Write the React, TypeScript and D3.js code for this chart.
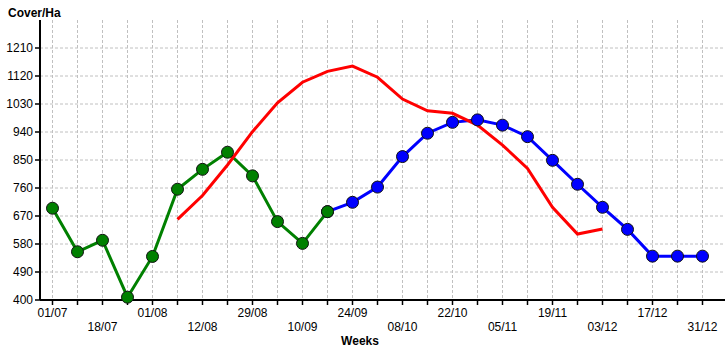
import React from "react";
import * as d3 from "d3";

const weekLabels = ["01/07", "18/07", "01/08", "12/08", "29/08", "10/09", "24/09", "08/10", "22/10", "05/11", "19/11", "03/12", "17/12", "31/12"];
const weekCount = 27;
const yTicks = [400, 490, 580, 670, 760, 850, 940, 1030, 1120, 1210];

// [weekIndex, value]
const greenSeries: [number, number][] = [
  [0, 695], [1, 555], [2, 592], [3, 409], [4, 540], [5, 756], [6, 820], [7, 875], [8, 799], [9, 652], [10, 582], [11, 684],
];
const blueSeries: [number, number][] = [
  [11, 684], [12, 714], [13, 763], [14, 861], [15, 936], [16, 971], [17, 979], [18, 962], [19, 925], [20, 849], [21, 772], [22, 698], [23, 627], [24, 541], [25, 541], [26, 541],
];
const redSeries: [number, number][] = [
  [5, 659], [6, 736], [7, 834], [8, 941], [9, 1034], [10, 1100], [11, 1135], [12, 1152], [13, 1116], [14, 1046], [15, 1008], [16, 1000], [17, 962], [18, 898], [19, 823], [20, 698], [21, 612], [22, 628],
];

const W = 725, H = 350;
const left = 40, right = 725, top = 20, bottom = 300;

export default function App() {
  const x = d3.scaleLinear().domain([0, weekCount - 1]).range([52.5, 702.5]);
  const y = d3.scaleLinear().domain([400, 1300]).range([bottom, top]);
  const line = d3.line<[number, number]>().x((d) => x(d[0])).y((d) => y(d[1]));
  const font = "'Liberation Sans', Arial, sans-serif";
  const weeks = d3.range(weekCount);

  return (
    <svg width={W} height={H} style={{ position: "absolute", left: 0, top: 0, background: "#fff" }} fontFamily={font}>
      <rect width={W} height={H} fill="#fff" />
      {/* grid */}
      {yTicks.slice(1).map((t) => (
        <line key={"hy" + t} x1={left} x2={right} y1={y(t)} y2={y(t)} stroke="#c0c0c0" strokeDasharray="3,2" />
      ))}
      {weeks.map((i) => (
        <line key={"gx" + i} x1={x(i)} x2={x(i)} y1={top} y2={bottom} stroke="#c0c0c0" strokeDasharray="3,2" />
      ))}
      {/* axes */}
      <line x1={left} x2={left} y1={top} y2={bottom} stroke="#000" strokeWidth={2} />
      <line x1={left} x2={right} y1={bottom} y2={bottom} stroke="#000" strokeWidth={2} />
      {yTicks.map((t) => (
        <g key={"yt" + t}>
          <line x1={left - 5} x2={left} y1={y(t)} y2={y(t)} stroke="#000" strokeWidth={1.5} />
          <text x={left - 7} y={y(t)} dy="0.35em" textAnchor="end" fontSize={12} fill="#000">{t}</text>
        </g>
      ))}
      {weeks.map((i) => (
        <line key={"xt" + i} x1={x(i)} x2={x(i)} y1={bottom} y2={bottom + 5} stroke="#000" strokeWidth={1.5} />
      ))}
      {weekLabels.map((lab, k) => (
        <text key={"xl" + k} x={x(k * 2)} y={k % 2 === 0 ? 317 : 331} textAnchor="middle" fontSize={12} fill="#000">{lab}</text>
      ))}
      <text x={8} y={16.5} fontSize={12} fontWeight="bold" fill="#000">Cover/Ha</text>
      <text x={360} y={345} fontSize={12} fontWeight="bold" textAnchor="middle" fill="#000">Weeks</text>
      {/* lines */}
      <path d={line(blueSeries) || ""} fill="none" stroke="#0000ff" strokeWidth={3} />
      <path d={line(greenSeries) || ""} fill="none" stroke="#008000" strokeWidth={3} />
      <path d={line(redSeries) || ""} fill="none" stroke="#ff0000" strokeWidth={3} />
      {/* markers */}
      {blueSeries.map((d, i) => (
        <circle key={"bm" + i} cx={x(d[0])} cy={y(d[1])} r={6} fill="#0000ff" stroke="#111" strokeWidth={1} />
      ))}
      {greenSeries.map((d, i) => (
        <circle key={"gm" + i} cx={x(d[0])} cy={y(d[1])} r={6} fill="#008000" stroke="#111" strokeWidth={1} />
      ))}
    </svg>
  );
}
